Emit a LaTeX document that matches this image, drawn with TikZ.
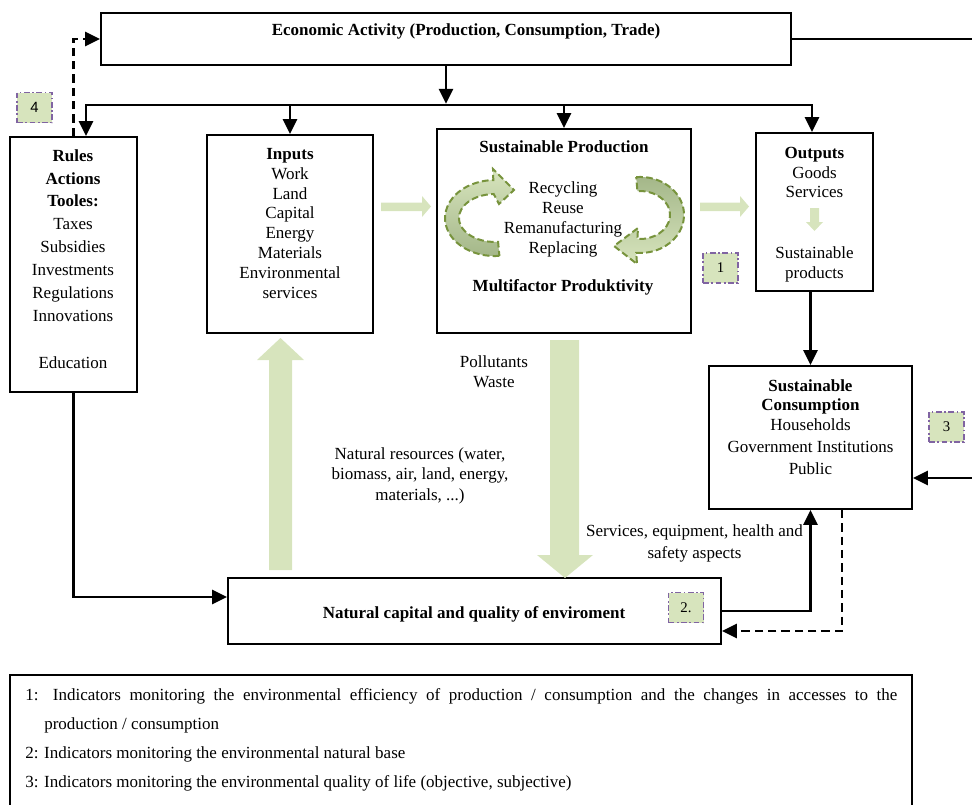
\documentclass[tikz,border=0pt]{standalone}
\usepackage{fontspec}
\setmainfont{Liberation Serif}
\setsansfont{Liberation Sans}
\usetikzlibrary{arrows.meta,positioning,fit,calc}
\definecolor{lightgreen}{HTML}{D7E4BD}
\definecolor{midgreen}{HTML}{A3B688}
\definecolor{olivegreen}{HTML}{77933C}
\definecolor{badgeline}{HTML}{8064A2}
\tikzset{>={Triangle[length=9pt,width=8.4pt]}}
\tikzset{
  box/.style={draw, line width=1.1pt, inner sep=0pt},
  txt/.style={align=center, inner sep=0pt, font=\fontsize{10.2}{12}\selectfont},
  bold/.style={txt, font=\fontsize{10.2}{12}\selectfont\bfseries},
  line/.style={line width=1.6pt},
  arr/.style={line, ->},
  dasharr/.style={arr, dash pattern=on 5pt off 3pt},
  flow/.style={fill=lightgreen},
  badge/.style={draw=badgeline, fill=lightgreen, line width=0.9pt,
    dash pattern=on 3.5pt off 1.5pt on 1pt off 1.5pt,
    minimum width=21pt, minimum height=18pt, inner sep=0pt,
    font=\fontsize{8.9}{10}\selectfont},
  cycle arrow/.style={draw=olivegreen, line width=1.2pt, dash pattern=on 4pt off 2pt}
}

\begin{document}
\begin{tikzpicture}[x=0.6pt, y=-0.6pt]
  \useasboundingbox (0,0) rectangle (972,805);

  % boxes
  \node[box, fit={(101,13) (791,65)}] (eco) {};
  \node[box, fit={(10,137) (137,392)}] (rules) {};
  \node[box, fit={(207,135) (373,333)}] (inputs) {};
  \node[box, fit={(437,129) (691,333)}] (prod) {};
  \node[box, fit={(756,133) (873,291)}] (outputs) {};
  \node[box, fit={(709,366) (912,509)}] (cons) {};
  \node[box, fit={(228,578) (721,644)}] (natcap) {};
  \node[box, fit={(10,675) (912,830)}] (legend) {};

  % texts
  \node[bold] (ecotxt) at (466,31) {Economic Activity (Production, Consumption, Trade)};
  \node[txt, anchor=north, font=\fontsize{10.2}{13.75}\selectfont] (rulestxt) at (73,149)
    {\textbf{Rules}\\\textbf{Actions}\\\textbf{Tooles:}\\Taxes\\Subsidies\\Investments\\Regulations\\Innovations\\[14.5pt]Education};
  \node[txt, anchor=north, font=\fontsize{10.2}{11.9}\selectfont] (inputstxt) at (290,148)
    {\textbf{Inputs}\\Work\\Land\\Capital\\Energy\\Materials\\Environmental\\services};
  \node[bold] (prodtxt) at (564,147) {Sustainable Production};
  \node[txt, anchor=north] (cyctxt) at (563,181) {Recycling\\Reuse\\Remanufacturing\\Replacing};
  \node[bold] (mfptxt) at (563,287) {Multifactor Produktivity};
  \node[txt, anchor=north, font=\fontsize{10.2}{11.7}\selectfont] (outtxt) at (814.5,147)
    {\textbf{Outputs}\\Goods\\Services};
  \node[txt, anchor=north] (susttxt) at (814.5,246) {Sustainable\\products};
  \node[txt, anchor=north, font=\fontsize{10.2}{11.7}\selectfont] (constxt) at (810.5,379)
    {\textbf{Sustainable}\\\textbf{Consumption}\\Households\\[1.5pt]Government Institutions\\[2pt]Public};
  \node[bold] (natcaptxt) at (474,614) {Natural capital and quality of enviroment};
  \node[txt, anchor=north] (polltxt) at (494,355) {Pollutants\\Waste};
  \node[txt, anchor=north, font=\fontsize{10.2}{12.3}\selectfont] (restxt) at (420,447)
    {Natural resources (water,\\biomass, air, land, energy,\\materials, ...)};
  \node[txt, anchor=north, font=\fontsize{10.2}{13.2}\selectfont] (servtxt) at (694.5,524)
    {Services, equipment, health and\\safety aspects};
  \node[txt, anchor=north west, text width=523.2pt, align=justify, font=\fontsize{10.2}{17.5}\selectfont] (legendtxt) at (25,688)
    {\hangindent=11.4pt \hangafter=1\relax 1: Indicators monitoring the environmental efficiency of production / consumption and the changes in accesses to the\linebreak production / consumption\par
     2: Indicators monitoring the environmental natural base\par
     3: Indicators monitoring the environmental quality of life (objective, subjective)};

  % green flows
  \fill[flow] (381,202.5) -- (422,202.5) -- (422,196) -- (431,206.5) -- (422,217) -- (422,211) -- (381,211) -- cycle;
  \fill[flow] (700,202.5) -- (740,202.5) -- (740,196) -- (749,206.5) -- (740,217) -- (740,211) -- (700,211) -- cycle;
  \fill[flow] (810,208) -- (810,222) -- (806,222) -- (814.5,231) -- (823,222) -- (819,222) -- (819,208) -- cycle;
  \fill[flow] (269,570) -- (269,360) -- (257,360) -- (280.5,338) -- (304,360) -- (292,360) -- (292,570) -- cycle;
  \fill[flow] (550,340) -- (550,555) -- (537,555) -- (565,578) -- (593,555) -- (579,555) -- (579,340) -- cycle;

  % cycle arrows
  \shadedraw[cycle arrow, top color=lightgreen, bottom color=midgreen]
    (499.4,255.9) arc[start angle=85, end angle=268, x radius=50, y radius=38]
    -- (493,169) -- (514,190) -- (499,204) -- (493.7,194)
    arc[start angle=268, end angle=85, x radius=36, y radius=24] -- cycle;
  \shadedraw[cycle arrow, top color=midgreen, bottom color=lightgreen]
    (636.2,177.1) arc[start angle=265, end angle=455, x radius=44, y radius=38]
    -- (637,264) -- (614,246) -- (638,228) -- (637.4,238.9)
    arc[start angle=455, end angle=265, x radius=30, y radius=24] -- cycle;

  % badges
  \node[badge, font=\sffamily\fontsize{8.9}{10}\selectfont] (b4) at (34.5,107.5) {4};
  \node[badge] (b1) at (720.5,268) {1};
  \node[badge] (b3) at (946.5,427) {3};
  \node[badge] (b2) at (686,607.5) {2.};

  % connectors
  \coordinate (busL) at (86,105);
  \coordinate (busR) at (812,105);
  \draw[arr, shorten >=0.75pt] (eco.south) -- (eco.south |- busL);
  \draw[line, <->] (busL |- rules.north) -- (busL) -- (busR) -- (busR |- outputs.north);
  \draw[arr] (inputs.north |- busL) -- (inputs.north);
  \draw[arr] (prod.north |- busL) -- (prod.north);
  \draw[dasharr] (rules.north) -- (rules.north |- eco.west) -- (eco.west);
  \draw[arr] (rules.south) |- ([yshift=8.4pt]natcap.west);
  \draw[arr] (natcap.east) -| (cons.south);
  \draw[dasharr] ([xshift=18.9pt]cons.south) |- ([yshift=-12pt]natcap.east);
  \draw[arr] (cons.north |- outputs.south) -- (cons.north);
  \draw[arr] (eco.east) -- ++(220,0) |- ([yshift=-24.3pt]cons.east);
\end{tikzpicture}
\end{document}
